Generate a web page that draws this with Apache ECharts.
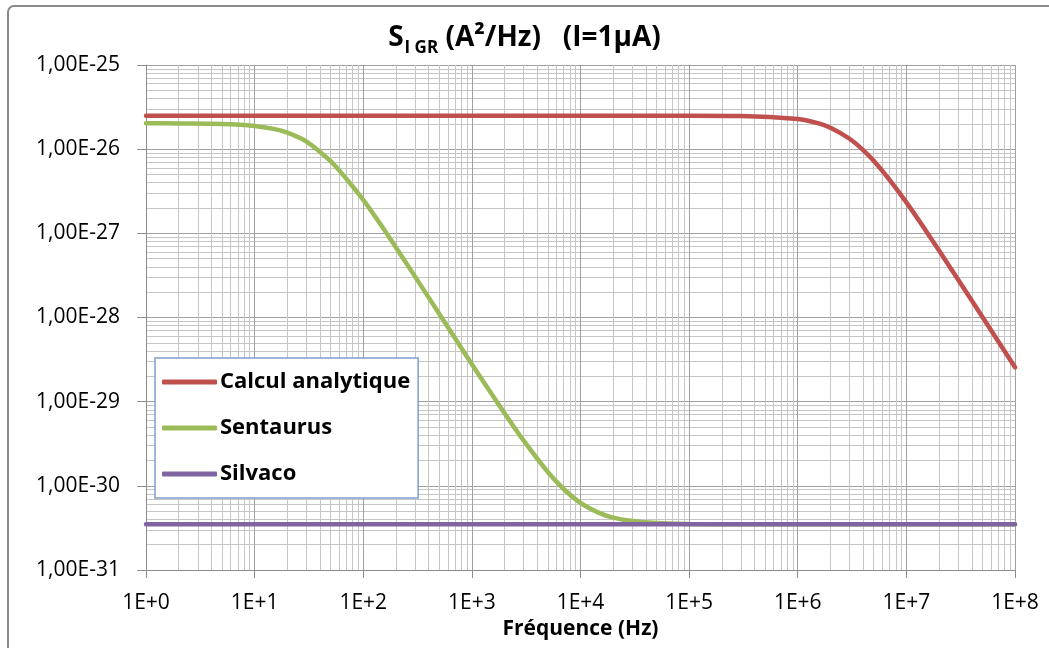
<!DOCTYPE html>
<html>
<head>
<meta charset="utf-8">
<script src="https://cdn.jsdelivr.net/npm/echarts@6/dist/echarts.min.js"></script>
<style>
  html, body { margin: 0; padding: 0; background: #fff; }
  #chart { width: 1049px; height: 648px; }
</style>
</head>
<body>
<div id="chart"></div>
<script>
// Frequencies (Hz) at which the spectra are sampled
const freqHz = [1, 2, 5, 10, 15, 20, 30, 50, 70, 100, 150, 200, 300, 500, 700,
  1e3, 1.5e3, 2e3, 3e3, 5e3, 7e3, 1e4, 1.5e4, 2e4, 3e4, 5e4, 1e5, 3e5,
  1e6, 1.5e6, 2e6, 3e6, 4e6, 5e6, 7e6, 1e7, 1.5e7, 2e7, 3e7, 5e7, 7e7, 1e8];

// Generation-recombination noise current spectral density (A²/Hz)
const calculAnalytique = [2.50e-26, 2.50e-26, 2.50e-26, 2.50e-26, 2.50e-26, 2.50e-26, 2.50e-26,
  2.50e-26, 2.50e-26, 2.50e-26, 2.50e-26, 2.50e-26, 2.50e-26, 2.50e-26, 2.50e-26,
  2.50e-26, 2.50e-26, 2.50e-26, 2.50e-26, 2.50e-26, 2.50e-26, 2.50e-26, 2.50e-26,
  2.50e-26, 2.50e-26, 2.50e-26, 2.50e-26, 2.48e-26,
  2.28e-26, 2.05e-26, 1.80e-26, 1.33e-26, 9.76e-27, 7.27e-27, 4.32e-27, 2.33e-27,
  1.09e-27, 6.24e-28, 2.81e-28, 1.02e-28, 5.21e-29, 2.56e-29];

const sentaurus = [2.03e-26, 2.02e-26, 1.99e-26, 1.89e-26, 1.74e-26, 1.57e-26, 1.23e-26,
  7.19e-27, 4.43e-27, 2.50e-27, 1.19e-27, 6.80e-28, 3.06e-28, 1.11e-28, 5.66e-29,
  2.78e-29, 1.27e-29, 7.30e-30, 3.44e-30, 1.46e-30, 9.17e-31, 6.28e-31, 4.74e-31,
  4.19e-31, 3.81e-31, 3.61e-31, 3.53e-31, 3.50e-31,
  3.50e-31, 3.50e-31, 3.50e-31, 3.50e-31, 3.50e-31, 3.50e-31, 3.50e-31, 3.50e-31,
  3.50e-31, 3.50e-31, 3.50e-31, 3.50e-31, 3.50e-31, 3.50e-31];

const silvaco = [3.50e-31, 3.50e-31, 3.50e-31, 3.50e-31, 3.50e-31, 3.50e-31, 3.50e-31,
  3.50e-31, 3.50e-31, 3.50e-31, 3.50e-31, 3.50e-31, 3.50e-31, 3.50e-31, 3.50e-31,
  3.50e-31, 3.50e-31, 3.50e-31, 3.50e-31, 3.50e-31, 3.50e-31, 3.50e-31, 3.50e-31,
  3.50e-31, 3.50e-31, 3.50e-31, 3.50e-31, 3.50e-31,
  3.50e-31, 3.50e-31, 3.50e-31, 3.50e-31, 3.50e-31, 3.50e-31, 3.50e-31, 3.50e-31,
  3.50e-31, 3.50e-31, 3.50e-31, 3.50e-31, 3.50e-31, 3.50e-31];

const seriesNames = ['Calcul analytique', 'Sentaurus', 'Silvaco'];
const seriesColors = ['#C0504D', '#9BBB59', '#8064A2'];
const seriesValues = [calculAnalytique, sentaurus, silvaco];

const xRange = [1, 1e8];
const yRange = [1e-31, 1e-25];

// The log scale rounds very small numbers to zero, so the y axis works in
// units of 1e-31 A²/Hz; labels convert back to A²/Hz.
const Y_UNIT_EXP = -31;
const Y_UNIT = 1e-31;
const toAxis = (v) => v / Y_UNIT;

const pairs = (ys) => freqHz.map((f, i) => [f, toAxis(ys[i])]);
const expOf = (v) => Math.round(Math.log10(v));

const FONT = '"Open Sans", "Liberation Sans", sans-serif';

const chart = echarts.init(document.getElementById('chart'), null, { renderer: 'canvas' });

const gridLineMajor = '#a0a0a0';
const gridLineMinor = '#c6c6c6';
const axisColor = '#8c8c8c';

const option = {
  backgroundColor: '#ffffff',
  animation: false,
  title: {
    text: '{a|S}{sub|I GR}{a| (A²/Hz)   (I=1µA)}',
    left: 'center',
    top: 11,
    textStyle: {
      rich: {
        a: { fontFamily: FONT, fontWeight: 'bold', fontSize: 28, color: '#000', lineHeight: 36, verticalAlign: 'bottom' },
        sub: { fontFamily: FONT, fontWeight: 'bold', fontSize: 17, color: '#000', lineHeight: 36, verticalAlign: 'bottom', padding: [0, 0, -5, 1] }
      }
    }
  },
  grid: { left: 146, right: 34, top: 65, bottom: 78, containLabel: false },
  xAxis: {
    type: 'log',
    logBase: 10,
    min: xRange[0],
    max: xRange[1],
    splitNumber: 8,
    name: 'Fréquence (Hz)',
    nameLocation: 'middle',
    nameGap: 42,
    nameTextStyle: { fontFamily: FONT, fontWeight: 'bold', fontSize: 21, color: '#000' },
    axisLine: { show: true, lineStyle: { color: axisColor, width: 1 } },
    axisTick: { show: true, inside: false, length: 8, lineStyle: { color: axisColor } },
    axisLabel: {
      fontFamily: FONT, fontSize: 21, color: '#000', margin: 23,
      formatter: (v) => '1E+' + expOf(v)
    },
    splitLine: { show: true, lineStyle: { color: gridLineMajor, width: 1 } },
    minorTick: { show: false, splitNumber: 9 },
    minorSplitLine: { show: true, lineStyle: { color: gridLineMinor, width: 1 } }
  },
  yAxis: {
    type: 'log',
    logBase: 10,
    min: toAxis(yRange[0]),
    max: toAxis(yRange[1]),
    splitNumber: 6,
    axisLine: { show: true, lineStyle: { color: axisColor, width: 1 } },
    axisTick: { show: true, inside: false, length: 9, lineStyle: { color: axisColor } },
    axisLabel: {
      fontFamily: FONT, fontSize: 21, color: '#000', margin: 26,
      formatter: (v) => '1,00E' + (expOf(v) + Y_UNIT_EXP)
    },
    splitLine: { show: true, lineStyle: { color: gridLineMajor, width: 1 } },
    minorTick: { show: false, splitNumber: 9 },
    minorSplitLine: { show: true, lineStyle: { color: gridLineMinor, width: 1 } }
  },
  legend: {
    orient: 'vertical',
    left: 155,
    top: 358,
    padding: [13, 8, 13, 7],
    itemGap: 24,
    itemWidth: 55,
    itemHeight: 5,
    icon: 'roundRect',
    backgroundColor: '#ffffff',
    borderColor: '#7f9fcf',
    borderWidth: 1.5,
    textStyle: { fontFamily: FONT, fontWeight: 'bold', fontSize: 22, color: '#000', padding: [0, 0, 0, -2] },
    data: seriesNames
  },
  graphic: [
    {
      type: 'rect',
      silent: true,
      shape: { x: 8, y: 6, width: 1100, height: 700, r: 6 },
      style: { fill: 'none', stroke: '#8a8a8a', lineWidth: 2 },
      z: 100
    }
  ],
  // Series are drawn in order, so Silvaco lies on top of the Sentaurus floor
  series: seriesNames.map((name, k) => ({
    type: 'line',
    name: name,
    data: pairs(seriesValues[k]),
    showSymbol: false,
    smooth: 0.3,
    itemStyle: { color: seriesColors[k] },
    lineStyle: { color: seriesColors[k], width: 4.5, cap: 'round' },
    z: 3 + k
  }))
};

chart.setOption(option);
</script>
</body>
</html>
